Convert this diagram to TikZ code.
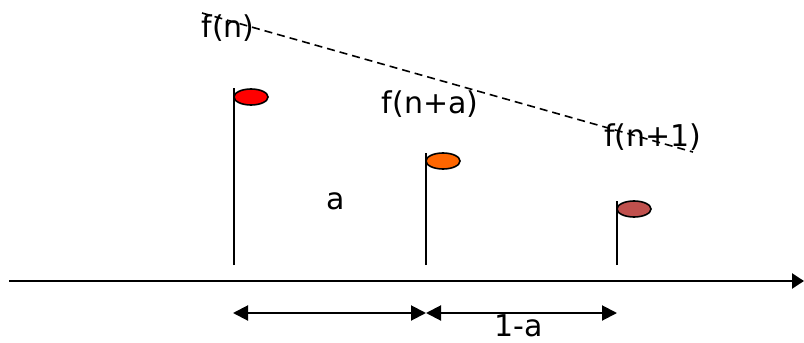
\documentclass[tikz,border=0pt]{standalone}
\usepackage{fontspec}
\setmainfont{DejaVu Sans}
\usetikzlibrary{arrows.meta,shapes.geometric}
\definecolor{flagred}{RGB}{255,0,0}
\definecolor{flagorange}{RGB}{255,102,0}
\definecolor{flagbrown}{RGB}{192,80,77}
\begin{document}
\begin{tikzpicture}[x=1pt,y=-1pt,
  lbl/.style={inner sep=0pt,anchor=base,font=\fontsize{30}{36}\selectfont},
  stem/.style={line width=2pt},
  flag/.style={draw=black,line width=1.6pt,ellipse,minimum width=34pt,minimum height=16pt,inner sep=0pt},
  dim/.style={line width=2pt,{Triangle[length=15pt,width=15pt]}-{Triangle[length=15pt,width=15pt]}}]
\useasboundingbox (0,0) rectangle (804,343);
% axis
\coordinate (ax0) at (9,281);
\coordinate (ax1) at (804,281);
\draw[line width=2.4pt,-{Triangle[length=12pt,width=15pt]}] (ax0) -- (ax1);
% stems
\coordinate (s1b) at (234,265); \coordinate (s1t) at (234,88);
\coordinate (s2b) at (426,265); \coordinate (s2t) at (426,153);
\coordinate (s3b) at (617,265); \coordinate (s3t) at (617,201);
\draw[stem] (s1b) -- (s1t);
\draw[stem] (s2b) -- (s2t);
\draw[stem] (s3b) -- (s3t);
% flags
\node[flag,fill=flagred] (f1) at (251,97) {};
\node[flag,fill=flagorange] (f2) at (443,161) {};
\node[flag,fill=flagbrown] (f3) at (634,209) {};
% labels
\node[lbl] (ln) at (228,37) {f(n)};
\node[lbl] (lna) at (430,113) {f(n+a)};
\node[lbl] (ln1) at (653,146) {f(n+1)};
\node[lbl] (la) at (336,209) {a};
\node[lbl,text depth=0pt] (l1a) at (519,336) {1-a};
% dashed line
\coordinate (d0) at (202,13);
\coordinate (d1) at (693,152);
\draw[line width=1.6pt,dash pattern=on 8pt off 5pt] (d0) -- (d1);
% dimension arrows
\coordinate (m1) at (233,313);
\coordinate (m2) at (426,313);
\coordinate (m3) at (617,313);
\draw[dim] (m1) -- (m2);
\draw[dim] (m2) -- (m3);
\end{tikzpicture}
\end{document}
